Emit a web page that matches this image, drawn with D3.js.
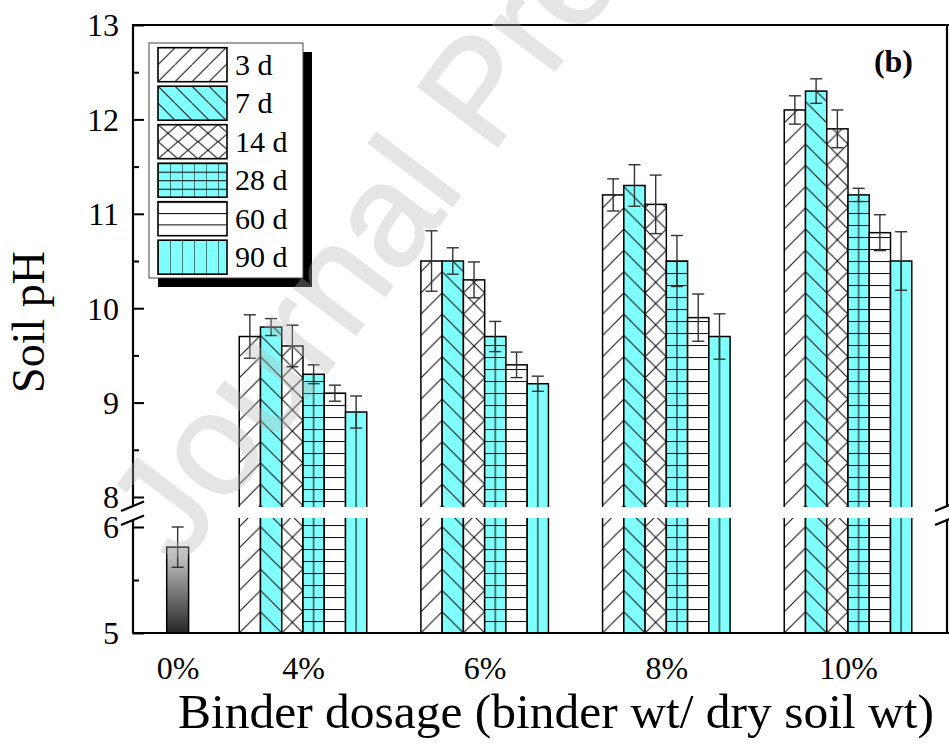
<!DOCTYPE html>
<html>
<head>
<meta charset="utf-8">
<script src="https://cdn.jsdelivr.net/npm/d3@7"></script>
<style>
  body { margin: 0; background: #fff; }
  svg { display: block; }
</style>
</head>
<body>
<svg id="chart" width="949" height="754"></svg>
<script>
// Soil pH after curing, by binder dosage
const dosages = ["0%", "4%", "6%", "8%", "10%"];
const curingDays = ["3 d", "7 d", "14 d", "28 d", "60 d", "90 d"];

// untreated soil (0%)
const controlPH = [5.81];
const controlErr = [0.19];

// treated soil, one value per dosage 4%, 6%, 8%, 10%
const ph3d  = [9.7, 10.5, 11.2, 12.1];
const ph7d  = [9.8, 10.5, 11.3, 12.3];
const ph14d = [9.6, 10.3, 11.1, 11.9];
const ph28d = [9.3, 9.7, 10.5, 11.2];
const ph60d = [9.1, 9.4, 9.9, 10.8];
const ph90d = [8.9, 9.2, 9.7, 10.5];

const err3d  = [0.23, 0.32, 0.17, 0.15];
const err7d  = [0.09, 0.14, 0.22, 0.13];
const err14d = [0.22, 0.19, 0.31, 0.20];
const err28d = [0.10, 0.16, 0.27, 0.07];
const err60d = [0.085, 0.135, 0.25, 0.19];
const err90d = [0.17, 0.08, 0.24, 0.31];

const upperTicks = [8, 9, 10, 11, 12, 13];
const lowerTicks = [5, 6];

const phSeries = [ph3d, ph7d, ph14d, ph28d, ph60d, ph90d];
const errSeries = [err3d, err7d, err14d, err28d, err60d, err90d];

const svg = d3.select("#chart");
const defs = svg.append("defs");
const serif = "'Liberation Serif', 'Times New Roman', serif";
const CYAN = "#80ffff";

// plot frame
const L = 133, R = 947, T = 25, B = 633;
const gapTop = 507, gapBot = 518;

// broken y axis: two linear pieces
const yU = d3.scaleLinear().domain([8, 13]).range([497, T]);
const yL = d3.scaleLinear().domain([5, 6]).range([B, 527]);

// x: treated groups evenly spaced; control column sits closer to 4%
const xSlot = d3.scaleLinear().domain([1, 4]).range([303, 848]);
const slotOf = i => (i === 0 ? 0.31 : i);
const x = d3.scaleOrdinal(dosages, dosages.map((d, i) => xSlot(slotOf(i))));
const step = xSlot(2) - xSlot(1);
const bw = step * 0.117;
const inner = d3.scaleBand(curingDays, [-3 * bw, 3 * bw]);

// hatch styles per curing age
const hatchStyle = {
  "3 d":  { bg: "#fff", kind: "fwd" },
  "7 d":  { bg: CYAN,   kind: "back" },
  "14 d": { bg: "#fff", kind: "cross" },
  "28 d": { bg: CYAN,   kind: "grid" },
  "60 d": { bg: "#fff", kind: "horiz" },
  "90 d": { bg: CYAN,   kind: "vert" }
};

function makePattern(id, style, x0, y0, tw, th, vx) {
  const p = defs.append("pattern")
    .attr("id", id)
    .attr("patternUnits", "userSpaceOnUse")
    .attr("x", x0).attr("y", y0)
    .attr("width", tw).attr("height", th);
  p.append("rect").attr("width", tw).attr("height", th).attr("fill", style.bg);
  const ln = (a, b, c, d) => p.append("line")
    .attr("x1", a).attr("y1", b).attr("x2", c).attr("y2", d)
    .attr("stroke", "#111").attr("stroke-width", 1.1);
  const k = style.kind;
  if (k === "fwd" || k === "cross") ln(-1, th + 1, tw + 1, -1);
  if (k === "back" || k === "cross") ln(-1, -1, tw + 1, th + 1);
  if (k === "grid" || k === "horiz") ln(0, 0.5, tw, 0.5);
  if (k === "grid" || k === "vert") ln(vx, 0, vx, th);
  return `url(#${id})`;
}

// control bar gradient
const grad = defs.append("linearGradient").attr("id", "ctrlGrad")
  .attr("x1", 0).attr("y1", 0).attr("x2", 0).attr("y2", 1);
grad.append("stop").attr("offset", "0%").attr("stop-color", "#d4d4d4");
grad.append("stop").attr("offset", "100%").attr("stop-color", "#262626");

// --- bars ---
const barsG = svg.append("g");

const cx0 = x(dosages[0]);
const cw = bw * 1.03;
barsG.append("rect")
  .attr("x", cx0 - cw / 2).attr("width", cw)
  .attr("y", yL(controlPH[0])).attr("height", yL(5) - yL(controlPH[0]))
  .attr("fill", "url(#ctrlGrad)").attr("stroke", "#000").attr("stroke-width", 1.5);

const treated = dosages.slice(1);
const barData = [];
curingDays.forEach((day, si) => {
  treated.forEach((dose, gi) => {
    barData.push({ day, dose, si, gi, v: phSeries[si][gi], e: errSeries[si][gi] });
  });
});

barData.forEach(d => {
  const bx = x(d.dose) + inner(d.day);
  const t = hatchStyle[d.day];
  const square = (t.kind === "fwd" || t.kind === "back" || t.kind === "cross");
  const fill = makePattern(`h${d.si}_${d.gi}`, t, bx, B,
    inner.bandwidth(), square ? inner.bandwidth() : 12, inner.bandwidth() / 2);
  d.x = bx;
  barsG.append("rect")
    .attr("x", bx).attr("width", inner.bandwidth())
    .attr("y", yU(d.v)).attr("height", yL(5) - yU(d.v))
    .attr("fill", fill).attr("stroke", "#000").attr("stroke-width", 1.5);
});

// --- error bars ---
const errG = svg.append("g").attr("stroke", "#333").attr("stroke-width", 1.4);
function errorBar(cx, v, e, scale) {
  const y1 = scale(v + e), y2 = scale(v - e);
  errG.append("line").attr("x1", cx).attr("x2", cx).attr("y1", y1).attr("y2", y2);
  errG.append("line").attr("x1", cx - 6).attr("x2", cx + 6).attr("y1", y1).attr("y2", y1);
  errG.append("line").attr("x1", cx - 6).attr("x2", cx + 6).attr("y1", y2).attr("y2", y2);
}
errorBar(cx0, controlPH[0], controlErr[0], yL);
barData.forEach(d => errorBar(d.x + inner.bandwidth() / 2, d.v, d.e, yU));

// --- axis break band ---
svg.append("rect").attr("x", L + 1).attr("width", R - L - 2)
  .attr("y", gapTop).attr("height", gapBot - gapTop).attr("fill", "#fff");

// --- y axes (ticks point inward) ---
const upperAxis = svg.append("g").attr("transform", `translate(${L},0)`)
  .call(d3.axisLeft(yU).tickValues(upperTicks).tickSize(-11).tickPadding(14).tickFormat(d3.format("d")));
const upperMinor = svg.append("g").attr("transform", `translate(${L},0)`)
  .call(d3.axisLeft(yU).tickValues(upperTicks.slice(0, -1).map(v => v + 0.5)).tickSize(-6).tickFormat(""));
const lowerAxis = svg.append("g").attr("transform", `translate(${L},0)`)
  .call(d3.axisLeft(yL).tickValues(lowerTicks).tickSize(-11).tickPadding(14).tickFormat(d3.format("d")));
const lowerMinor = svg.append("g").attr("transform", `translate(${L},0)`)
  .call(d3.axisLeft(yL).tickValues([5.5]).tickSize(-6).tickFormat(""));

[upperAxis, upperMinor, lowerAxis, lowerMinor].forEach(g => {
  g.select(".domain").remove();
  g.selectAll(".tick line").attr("stroke", "#000").attr("stroke-width", 2);
  g.selectAll(".tick text").attr("font-family", serif).attr("font-size", 32)
    .attr("fill", "#000").attr("dy", "0.34em");
});

// --- x labels ---
const xAxis = svg.append("g").attr("transform", `translate(0,${B})`)
  .call(d3.axisBottom(x).tickSize(0).tickPadding(23));
xAxis.select(".domain").remove();
xAxis.selectAll(".tick text").attr("font-family", serif).attr("font-size", 32).attr("fill", "#000");

// --- frame ---
const frame = svg.append("g").attr("stroke", "#000").attr("stroke-width", 2.2).attr("fill", "none");
frame.append("line").attr("x1", L).attr("x2", R + 2).attr("y1", T).attr("y2", T);
frame.append("line").attr("x1", L).attr("x2", R + 2).attr("y1", B).attr("y2", B);
frame.append("line").attr("x1", L).attr("x2", L).attr("y1", T - 1).attr("y2", gapTop - 2);
frame.append("line").attr("x1", L).attr("x2", L).attr("y1", gapBot + 2).attr("y2", B + 1);
frame.append("line").attr("x1", R).attr("x2", R).attr("y1", T - 1).attr("y2", gapTop - 2);
frame.append("line").attr("x1", R).attr("x2", R).attr("y1", gapBot + 2).attr("y2", B + 1);

// break marks
const slash = (xc, yc) => frame.append("line")
  .attr("x1", xc - 12).attr("y1", yc + 5).attr("x2", xc + 11).attr("y2", yc - 4.5);
slash(L, gapTop - 1); slash(L, gapBot + 2);
slash(R, gapTop - 1); slash(R, gapBot + 2);

// --- legend ---
const lg = svg.append("g");
lg.append("rect").attr("x", 158).attr("y", 52).attr("width", 154).attr("height", 235).attr("fill", "#000");
lg.append("rect").attr("x", 149).attr("y", 43).attr("width", 154).attr("height", 235)
  .attr("fill", "#fff").attr("stroke", "#444").attr("stroke-width", 1);
curingDays.forEach((day, i) => {
  const sy = 47.7 + i * 38.5, sx = 158, sw = 69, sh = 34;
  const t = hatchStyle[day];
  let tw = 12, th = sh / 3, vx = 0;
  if (t.kind === "fwd" || t.kind === "back") { tw = 17; th = 17; }
  if (t.kind === "cross") { tw = 20; th = 17; }
  if (t.kind === "grid") { tw = 12; th = sh / 4; }
  const fill = makePattern(`lg${i}`, t, sx, sy, tw, th, vx);
  lg.append("rect").attr("x", sx).attr("y", sy).attr("width", sw).attr("height", sh)
    .attr("fill", fill).attr("stroke", "#000").attr("stroke-width", 1.6);
  lg.append("text").attr("x", 235).attr("y", sy + 27)
    .attr("font-family", serif).attr("font-size", 30).text(day);
});

// panel tag
svg.append("text").attr("x", 913).attr("y", 72).attr("text-anchor", "end")
  .attr("font-family", serif).attr("font-size", 32).attr("font-weight", "bold").text("(b)");

// axis titles
svg.append("text").attr("transform", "translate(44,322) rotate(-90)")
  .attr("text-anchor", "middle").attr("font-family", serif).attr("font-size", 46).text("Soil pH");
svg.append("text").attr("x", 556).attr("y", 728).attr("text-anchor", "middle")
  .attr("font-family", serif).attr("font-size", 49.5).text("Binder dosage (binder wt/ dry soil wt)");

// watermark
svg.append("g").attr("opacity", 0.34)
  .append("text").attr("transform", "translate(180,568) rotate(-53)")
  .attr("font-family", "'Liberation Sans', Arial, sans-serif").attr("font-size", 145)
  .attr("fill", "#b4b4b4").attr("stroke", "#b4b4b4").attr("stroke-width", 2)
  .attr("stroke-linejoin", "round").text("Journal Pre-proof");
</script>
</body>
</html>
